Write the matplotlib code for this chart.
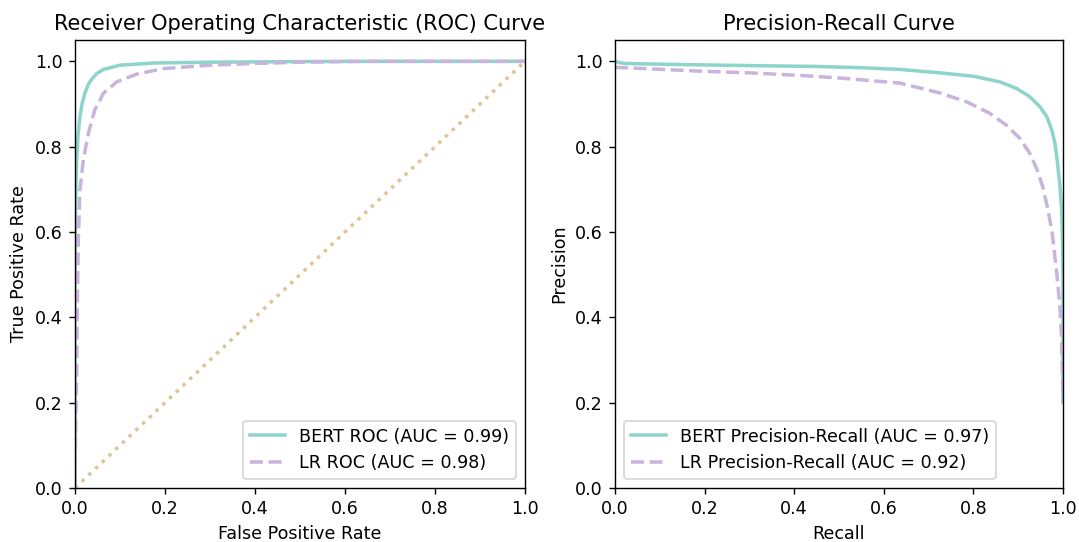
import matplotlib
matplotlib.use('Agg')
import matplotlib.pyplot as plt

# ROC curve points
bert_fpr = [0.0, 0.0, 0.001, 0.002, 0.0037, 0.007, 0.011, 0.016, 0.022, 0.029, 0.037,
            0.048, 0.063, 0.1, 0.174, 0.3, 0.45, 0.6, 1.0]
bert_tpr = [0.0, 0.45, 0.6, 0.7, 0.769, 0.83, 0.87, 0.902, 0.925, 0.945, 0.958,
            0.971, 0.981, 0.991, 0.996, 0.998, 0.999, 1.0, 1.0]

lr_fpr = [0.0, 0.001, 0.002, 0.0037, 0.005, 0.0074, 0.011, 0.0185, 0.0296, 0.044,
          0.063, 0.093, 0.137, 0.196, 0.3, 0.396, 0.5, 0.65, 1.0]
lr_tpr = [0.0, 0.1, 0.18, 0.27, 0.425, 0.582, 0.699, 0.769, 0.831, 0.886,
          0.925, 0.952, 0.97, 0.983, 0.991, 0.995, 0.998, 1.0, 1.0]

# Precision-Recall curve points
bert_recall = [0.0, 0.005, 0.022, 0.115, 0.3, 0.45, 0.55, 0.636, 0.725, 0.8, 0.859,
               0.897, 0.926, 0.949, 0.964, 0.975, 0.982, 0.987, 0.993, 0.997, 0.999,
               1.0, 1.0]
bert_precision = [1.0, 0.998, 0.995, 0.993, 0.99, 0.988, 0.985, 0.981, 0.973, 0.965, 0.952,
                  0.936, 0.917, 0.893, 0.87, 0.839, 0.808, 0.769, 0.71, 0.65, 0.575,
                  0.5, 0.2]

lr_recall = [0.0, 0.19, 0.3, 0.413, 0.5, 0.636, 0.725, 0.785, 0.837, 0.874, 0.904,
             0.926, 0.941, 0.955, 0.966, 0.976, 0.986, 0.993, 0.997, 1.0]
lr_precision = [0.986, 0.977, 0.973, 0.967, 0.961, 0.949, 0.926, 0.905, 0.878, 0.85, 0.819,
                0.784, 0.749, 0.705, 0.655, 0.597, 0.504, 0.426, 0.348, 0.2]

bert_roc_auc = 0.99
lr_roc_auc = 0.98
bert_pr_auc = 0.97
lr_pr_auc = 0.92

teal = '#8dd5ca'
lavender = '#c9b4dd'
tan = '#dcc597'

dpi = 126
fig = plt.figure(figsize=(1079 / dpi, 542 / dpi), dpi=dpi)
ax1 = fig.add_axes([75 / 1079, 1 - 488 / 542, 450 / 1079, 448 / 542])
ax2 = fig.add_axes([615 / 1079, 1 - 488 / 542, 448 / 1079, 448 / 542])

# ROC
ax1.plot(bert_fpr, bert_tpr, color=teal, lw=2, label=f'BERT ROC (AUC = {bert_roc_auc:.2f})')
ax1.plot(lr_fpr, lr_tpr, color=lavender, lw=2, ls='--', label=f'LR ROC (AUC = {lr_roc_auc:.2f})')
ax1.plot([0, 1], [0, 1], color=tan, lw=2, ls=':')
ax1.set_xlim(0.0, 1.0)
ax1.set_ylim(0.0, 1.05)
ax1.set_xlabel('False Positive Rate')
ax1.set_ylabel('True Positive Rate')
ax1.set_title('Receiver Operating Characteristic (ROC) Curve', fontsize=12)
ax1.legend(loc='lower right')

# Precision-Recall
ax2.plot(bert_recall, bert_precision, color=teal, lw=2,
         label=f'BERT Precision-Recall (AUC = {bert_pr_auc:.2f})')
ax2.plot(lr_recall, lr_precision, color=lavender, lw=2, ls='--',
         label=f'LR Precision-Recall (AUC = {lr_pr_auc:.2f})')
ax2.set_xlim(0.0, 1.0)
ax2.set_ylim(0.0, 1.05)
ax2.set_xlabel('Recall')
ax2.set_ylabel('Precision')
ax2.set_title('Precision-Recall Curve', fontsize=12)
ax2.legend(loc='lower left')

fig.savefig('out.png', dpi=dpi)
